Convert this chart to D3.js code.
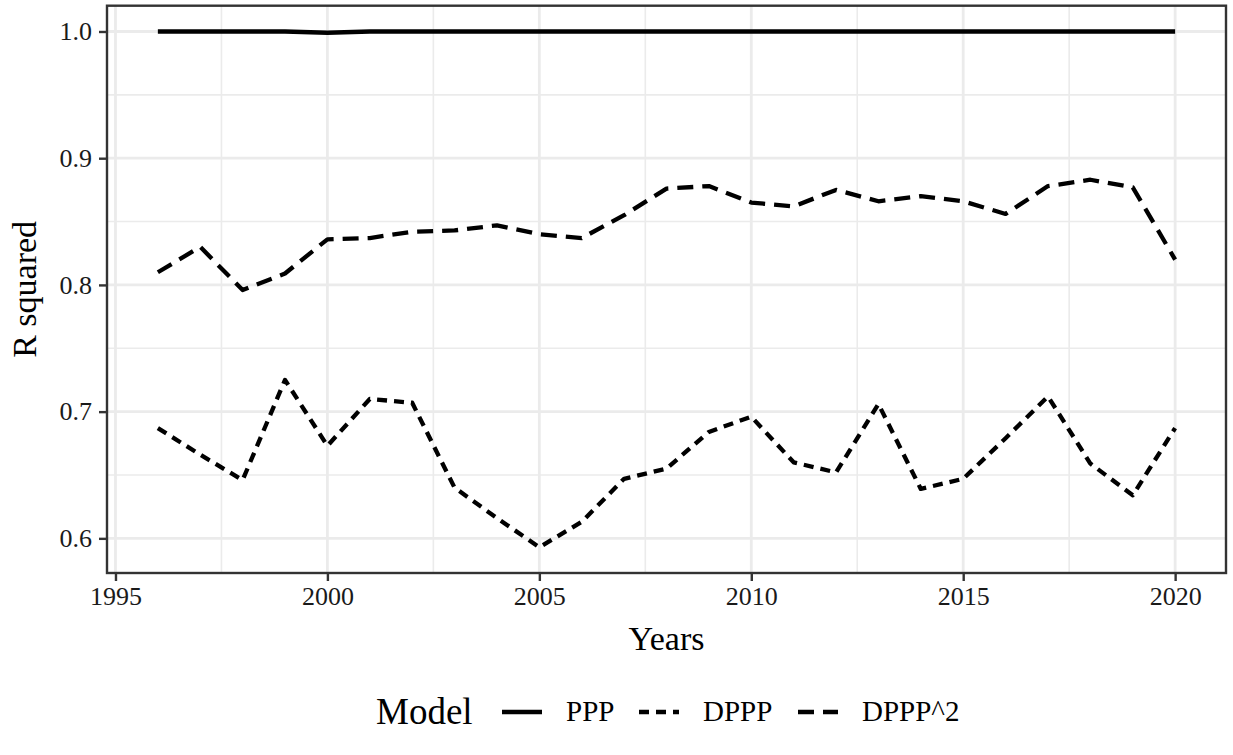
<!DOCTYPE html>
<html>
<head>
<meta charset="utf-8">
<script src="https://cdn.jsdelivr.net/npm/d3@7"></script>
<style>
  html, body { margin: 0; padding: 0; background: #fff; }
  svg { display: block; }
</style>
</head>
<body>
<script>
const years = [1996,1997,1998,1999,2000,2001,2002,2003,2004,2005,2006,2007,2008,2009,2010,2011,2012,2013,2014,2015,2016,2017,2018,2019,2020];
const PPP = [1.0,1.0,1.0,1.0,0.999,1.0,1.0,1.0,1.0,1.0,1.0,1.0,1.0,1.0,1.0,1.0,1.0,1.0,1.0,1.0,1.0,1.0,1.0,1.0,1.0];
const DPPP = [0.687,0.666,0.646,0.725,0.673,0.710,0.707,0.640,0.616,0.593,0.613,0.647,0.655,0.684,0.696,0.660,0.652,0.706,0.639,0.647,0.679,0.712,0.659,0.634,0.687];
const DPPP2 = [0.810,0.830,0.796,0.809,0.836,0.837,0.842,0.843,0.847,0.840,0.837,0.855,0.876,0.878,0.865,0.862,0.875,0.866,0.870,0.866,0.856,0.878,0.883,0.877,0.820];
const modelNames = ["PPP","DPPP","DPPP^2"];
const xTicks = [1995,2000,2005,2010,2015,2020];
const yTicks = [0.6,0.7,0.8,0.9,1.0];

const W = 1233, H = 755;
const panel = {left: 107, right: 1226, top: 5.7, bottom: 573};

const series = [
  {name: "PPP", values: PPP, dash: null},
  {name: "DPPP", values: DPPP, dash: "10,7"},
  {name: "DPPP^2", values: DPPP2, dash: "16,9"}
];

const svg = d3.select("body").append("svg").attr("width", W).attr("height", H);

const xExt = d3.extent(years), xPad = (xExt[1]-xExt[0])*0.05;
const allY = PPP.concat(DPPP, DPPP2);
const yExt = d3.extent(allY), yPad = (yExt[1]-yExt[0])*0.05;

const x = d3.scaleLinear().domain([xExt[0]-xPad, xExt[1]+xPad]).range([panel.left, panel.right]);
const y = d3.scaleLinear().domain([yExt[0]-yPad, yExt[1]+yPad]).range([panel.bottom, panel.top]);

const serif = "'Liberation Serif', 'Times New Roman', serif";

// panel background
svg.append("rect").attr("x", panel.left).attr("y", panel.top)
  .attr("width", panel.right-panel.left).attr("height", panel.bottom-panel.top)
  .attr("fill", "#fff");

const grid = svg.append("g");
// minor grid
const xMinor = xTicks.slice(0,-1).map(t => t+2.5);
const yMinor = yTicks.slice(0,-1).map(t => t+0.05);
grid.selectAll("line.xm").data(xMinor).join("line")
  .attr("x1", d=>x(d)).attr("x2", d=>x(d)).attr("y1", panel.top).attr("y2", panel.bottom)
  .attr("stroke", "#EBEBEB").attr("stroke-width", 1.6);
grid.selectAll("line.ym").data(yMinor).join("line")
  .attr("y1", d=>y(d)).attr("y2", d=>y(d)).attr("x1", panel.left).attr("x2", panel.right)
  .attr("stroke", "#EBEBEB").attr("stroke-width", 1.6);
// major grid
grid.selectAll("line.xM").data(xTicks).join("line")
  .attr("x1", d=>x(d)).attr("x2", d=>x(d)).attr("y1", panel.top).attr("y2", panel.bottom)
  .attr("stroke", "#EBEBEB").attr("stroke-width", 2.8);
grid.selectAll("line.yM").data(yTicks).join("line")
  .attr("y1", d=>y(d)).attr("y2", d=>y(d)).attr("x1", panel.left).attr("x2", panel.right)
  .attr("stroke", "#EBEBEB").attr("stroke-width", 2.8);

// lines
const line = d3.line().x((d,i)=>x(years[i])).y(d=>y(d));
series.forEach(s => {
  svg.append("path").datum(s.values)
    .attr("d", line)
    .attr("fill", "none")
    .attr("stroke", "#000")
    .attr("stroke-width", 4.3)
    .attr("stroke-linejoin", "round")
    .attr("stroke-dasharray", s.dash);
});

// border
svg.append("rect").attr("x", panel.left).attr("y", panel.top)
  .attr("width", panel.right-panel.left).attr("height", panel.bottom-panel.top)
  .attr("fill", "none").attr("stroke", "#333333").attr("stroke-width", 2.4);

// axes
const xAxis = d3.axisBottom(x).tickValues(xTicks).tickFormat(d3.format("d")).tickSize(8).tickPadding(6);
const gx = svg.append("g").attr("transform", `translate(0,${panel.bottom})`).call(xAxis);
gx.select(".domain").remove();
gx.selectAll(".tick line").attr("stroke", "#333333").attr("stroke-width", 2.4);
gx.selectAll(".tick text").attr("fill", "#1a1a1a").attr("font-family", serif).attr("font-size", 26);

const yAxis = d3.axisLeft(y).tickValues(yTicks).tickFormat(d3.format(".1f")).tickSize(8).tickPadding(7);
const gy = svg.append("g").attr("transform", `translate(${panel.left},0)`).call(yAxis);
gy.select(".domain").remove();
gy.selectAll(".tick line").attr("stroke", "#333333").attr("stroke-width", 2.4);
gy.selectAll(".tick text").attr("fill", "#1a1a1a").attr("font-family", serif).attr("font-size", 26);

// axis titles
svg.append("text").attr("x", (panel.left+panel.right)/2).attr("y", 650)
  .attr("text-anchor", "middle").attr("font-family", serif).attr("font-size", 34)
  .attr("fill", "#000").text("Years");
svg.append("text").attr("transform", `translate(36,${(panel.top+panel.bottom)/2}) rotate(-90)`)
  .attr("text-anchor", "middle").attr("font-family", serif).attr("font-size", 34)
  .attr("fill", "#000").text("R squared");

// legend
const leg = svg.append("g");
leg.append("text").attr("x", 376).attr("y", 724).attr("font-family", serif).attr("font-size", 37)
  .attr("fill", "#000").text("Model");
const keyX = [502, 639, 798];
const labX = [566, 703, 862];
series.forEach((s, i) => {
  leg.append("line").attr("x1", keyX[i]).attr("x2", keyX[i]+40).attr("y1", 712).attr("y2", 712)
    .attr("stroke", "#000").attr("stroke-width", 4.3).attr("stroke-dasharray", s.dash);
  leg.append("text").attr("x", labX[i]).attr("y", 721).attr("font-family", serif).attr("font-size", 29)
    .attr("fill", "#000").text(modelNames[i]);
});
</script>
</body>
</html>
